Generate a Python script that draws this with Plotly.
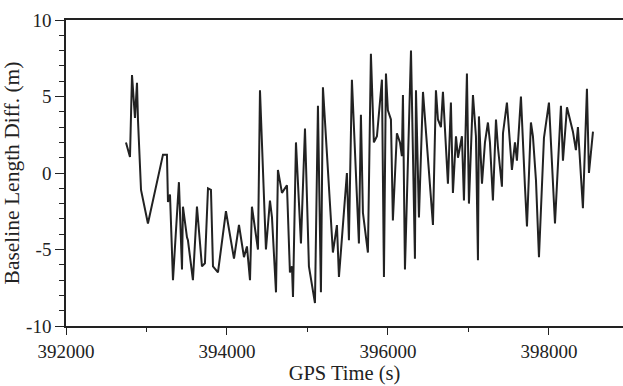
import plotly.graph_objects as go

# GPS time (s) and baseline length difference (m)
gps_time = [
    392745, 392795, 392820, 392857, 392882, 392894, 392932, 393018, 393205, 393254,
    393267, 393292, 393329, 393403, 393441, 393453, 393503, 393515, 393577, 393627,
    393689, 393726, 393764, 393801, 393826, 393888, 393987, 394087, 394149, 394211,
    394248, 394286, 394310, 394385, 394410, 394484, 394534, 394559, 394609, 394633,
    394683, 394745, 394782, 394807, 394820, 394857, 394919, 394969, 395018, 395093,
    395130, 395167, 395192, 395316, 395366, 395391, 395490, 395515, 395552, 395639,
    395664, 395689, 395751, 395788, 395825, 395863, 395925, 395950, 395975, 395999,
    396037, 396061, 396111, 396149, 396173, 396186, 396211, 396286, 396335, 396348,
    396385, 396435, 396559, 396596, 396621, 396658, 396683, 396720, 396745, 396782,
    396807, 396845, 396870, 396919, 396944, 396981, 397006, 397056, 397093, 397118,
    397130, 397168, 397205, 397242, 397267, 397304, 397342, 397366, 397416, 397429,
    397478, 397540, 397578, 397602, 397652, 397702, 397727, 397776, 397801, 397839,
    397876, 397938, 398000, 398075, 398149, 398174, 398224, 398298, 398335, 398360,
    398422, 398472, 398497, 398547,
]
length_diff = [
    2.0, 1.05, 6.4, 3.6, 5.9, 3.5, -1.1, -3.3, 1.2, 1.2,
    -1.9, -1.4, -7.0, -0.6, -6.3, -2.2, -4.2, -4.4, -7.0, -2.2,
    -6.1, -5.9, -1.0, -1.1, -6.1, -6.5, -2.5, -5.6, -3.4, -5.5,
    -4.8, -7.0, -2.2, -5.0, 5.4, -5.0, -1.8, -2.9, -7.8, 0.2,
    -1.3, -0.8, -6.5, -6.1, -8.1, 2.0, -4.6, 2.9, -6.1, -8.5,
    4.4, -7.8, 5.6, -5.2, -3.4, -6.8, 0.0, -4.4, 6.1, -4.6,
    3.8, -2.6, -5.2, 7.8, 2.0, 2.4, 6.1, -6.8, 6.5, 4.1,
    3.5, -3.1, 2.6, 2.0, 1.1, 5.1, -6.3, 8.0, -5.6, 5.4,
    -2.9, 5.3, -3.4, 5.4, 3.5, 3.0, 5.3, 2.0, -0.7, 4.6,
    -1.3, 2.4, 1.0, 2.4, -1.8, 6.5, -2.0, 5.1, 2.4, -5.7,
    3.7, -0.7, 2.0, 3.3, 2.0, -1.8, 3.5, 1.7, -0.9, 2.6,
    4.6, 0.2, 2.0, 0.8, 5.0, -0.9, -3.5, 3.3, 2.4, -0.5,
    -5.5, 2.3, 4.6, -3.3, 4.4, 0.8, 4.3, 2.7, 1.5, 3.0,
    -2.3, 5.5, 0.0, 2.7,
]

x_ticks = [392000, 394000, 396000, 398000]
x_tick_labels = ["392000", "394000", "396000", "398000"]
y_ticks = [-10, -5, 0, 5, 10]
y_tick_labels = ["-10", "-5", "0", "5", "10"]

FONT = "Liberation Serif"
INK = "#222222"

fig = go.Figure()
fig.add_trace(go.Scatter(
    x=gps_time, y=length_diff, mode="lines",
    line=dict(color=INK, width=2),
    showlegend=False, hoverinfo="skip",
))

fig.update_layout(
    width=623, height=386,
    margin=dict(l=66, r=0, t=20, b=60),
    paper_bgcolor="white", plot_bgcolor="white",
    font=dict(family=FONT, size=19, color=INK),
    xaxis=dict(
        range=[392000, 398920],
        tickmode="array", tickvals=x_ticks, ticktext=x_tick_labels,
        showline=True, linecolor=INK, linewidth=1.6, mirror=True,
        ticks="outside", ticklen=7, tickwidth=1.3, tickcolor=INK,
        minor=dict(dtick=1000, tick0=392000, ticks="outside", ticklen=4,
                   tickwidth=1.2, tickcolor=INK, showgrid=False),
        showgrid=False, zeroline=False,
        title=dict(text="GPS Time (s)", standoff=5, font=dict(size=20.5)),
        tickfont=dict(size=19),
    ),
    yaxis=dict(
        range=[-10, 10],
        tickmode="array", tickvals=y_ticks, ticktext=y_tick_labels,
        showline=True, linecolor=INK, linewidth=1.6,
        ticks="outside", ticklen=9, tickwidth=1.3, tickcolor=INK,
        minor=dict(dtick=1, tick0=0, ticks="outside", ticklen=5,
                   tickwidth=1.2, tickcolor=INK, showgrid=False),
        showgrid=False, zeroline=False,
        title=dict(text="Baseline Length Diff. (m)", standoff=4, font=dict(size=21.5)),
        tickfont=dict(size=19),
    ),
)

fig.write_html("out.html")
